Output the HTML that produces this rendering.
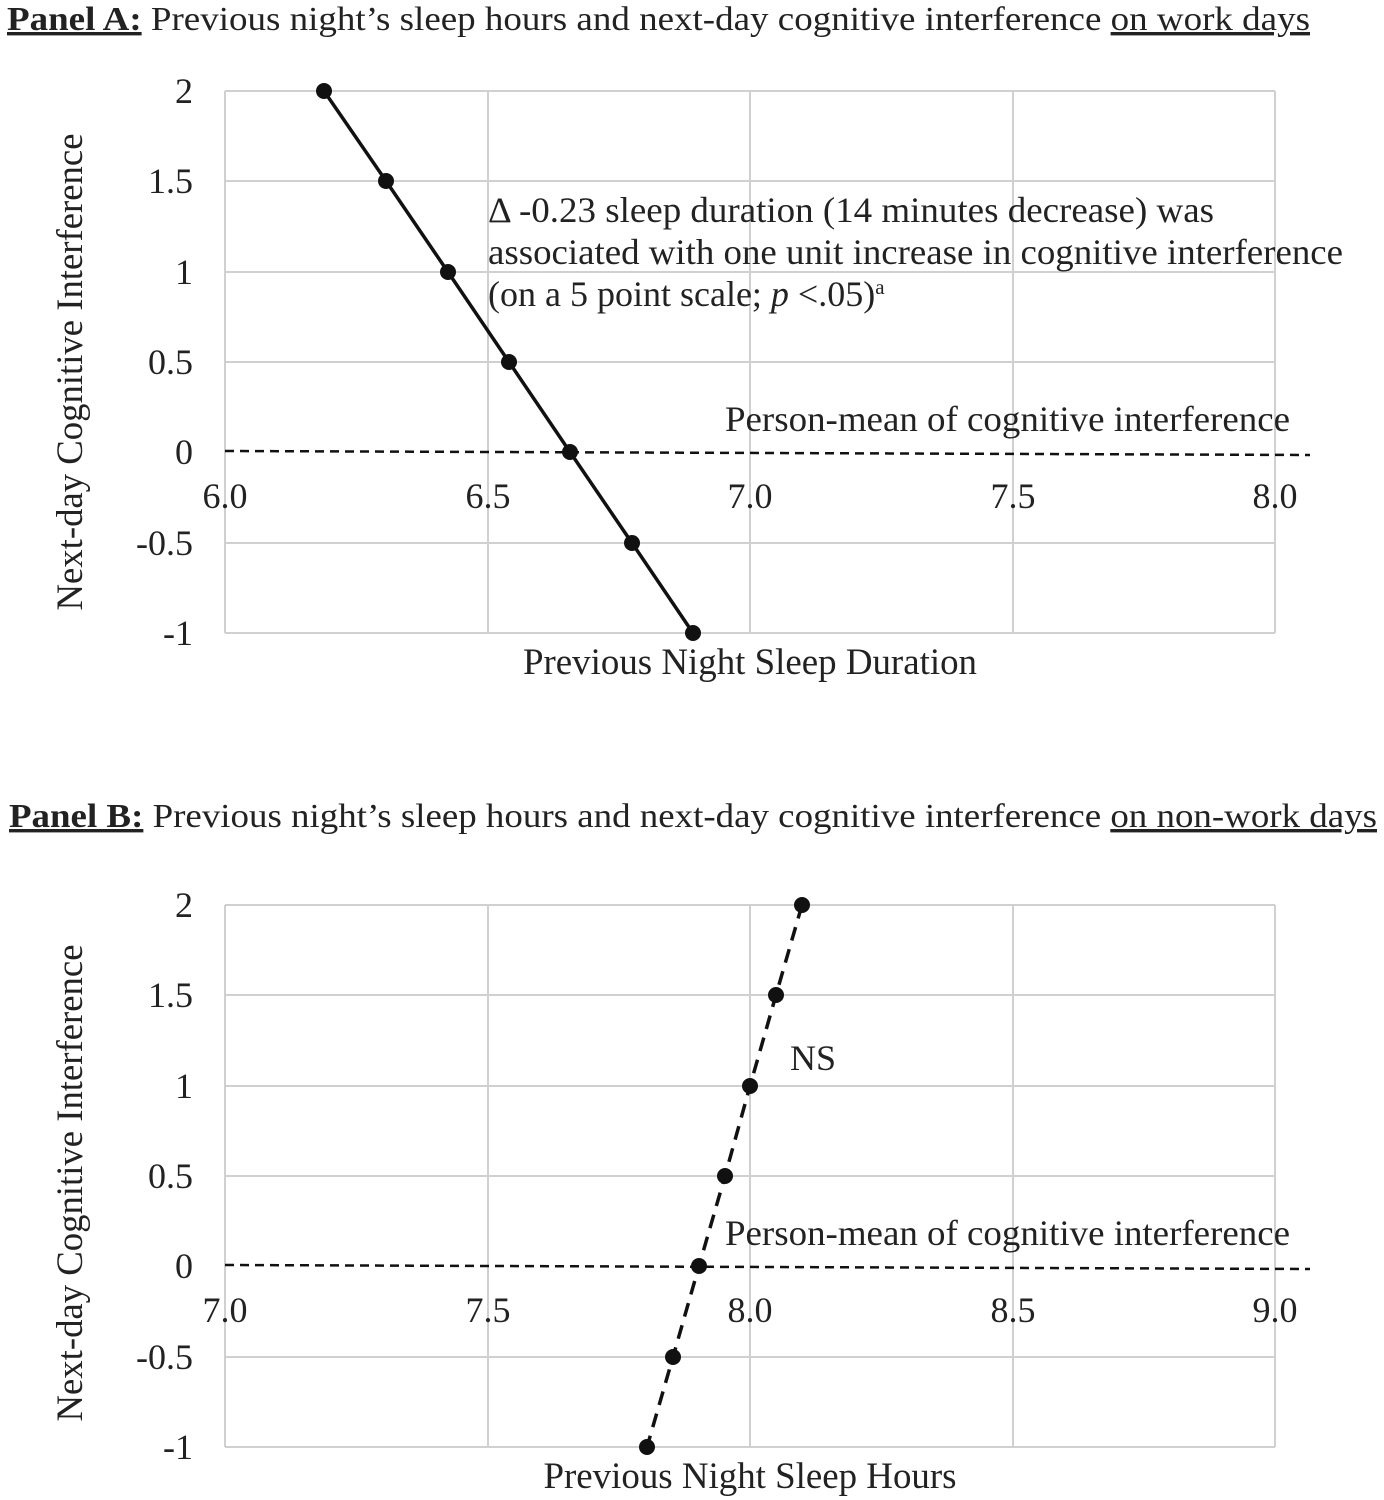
<!DOCTYPE html>
<html><head><meta charset="utf-8"><style>
html,body{margin:0;padding:0;background:#fff;}
svg{display:block;font-family:"Liberation Serif",serif;}
</style></head><body>
<svg width="1384" height="1500" viewBox="0 0 1384 1500">
<g font-size="34" fill="#222">
<text x="7" y="30" textLength="1303" lengthAdjust="spacingAndGlyphs"><tspan font-weight="bold" text-decoration="underline">Panel A:</tspan> Previous night’s sleep hours and next-day cognitive interference <tspan text-decoration="underline">on work days</tspan></text>
<text x="9" y="827" textLength="1368" lengthAdjust="spacingAndGlyphs"><tspan font-weight="bold" text-decoration="underline">Panel B:</tspan> Previous night’s sleep hours and next-day cognitive interference <tspan text-decoration="underline">on non-work days</tspan></text>
</g>

<!-- Panel A grid -->
<g stroke="#d0d0d0" stroke-width="2" fill="none">
<line x1="225" y1="91" x2="1275" y2="91"/><line x1="225" y1="181" x2="1275" y2="181"/><line x1="225" y1="272" x2="1275" y2="272"/><line x1="225" y1="362" x2="1275" y2="362"/><line x1="225" y1="543" x2="1275" y2="543"/><line x1="225" y1="633" x2="1275" y2="633"/>
<line x1="225" y1="91" x2="225" y2="633"/><line x1="488" y1="91" x2="488" y2="633"/><line x1="750" y1="91" x2="750" y2="633"/><line x1="1013" y1="91" x2="1013" y2="633"/><line x1="1275" y1="91" x2="1275" y2="633"/>
</g>
<line x1="225" y1="451" x2="1310" y2="455" stroke="#111" stroke-width="2.5" stroke-dasharray="9,6"/>
<polyline points="324,91 386,181 448,272 509,362 570,452 632,543 693,633" fill="none" stroke="#111" stroke-width="3.5"/>
<g fill="#111"><circle cx="324" cy="91" r="8"/><circle cx="386" cy="181" r="8"/><circle cx="448" cy="272" r="8"/><circle cx="509" cy="362" r="8"/><circle cx="570" cy="452" r="8"/><circle cx="632" cy="543" r="8"/><circle cx="693" cy="633" r="8"/></g>
<g font-size="36" fill="#222" text-anchor="end">
<text x="193" y="103">2</text><text x="193" y="193">1.5</text><text x="193" y="284">1</text><text x="193" y="374">0.5</text><text x="193" y="464">0</text><text x="193" y="555">-0.5</text><text x="193" y="645">-1</text>
</g>
<g font-size="36" fill="#222" text-anchor="middle">
<text x="225" y="508">6.0</text><text x="488" y="508">6.5</text><text x="750" y="508">7.0</text><text x="1013" y="508">7.5</text><text x="1275" y="508">8.0</text>
<text x="750" y="674" font-size="37" textLength="454" lengthAdjust="spacingAndGlyphs">Previous Night Sleep Duration</text>
<text transform="translate(82,372) rotate(-90)" font-size="37" textLength="477" lengthAdjust="spacingAndGlyphs">Next-day Cognitive Interference</text>
</g>
<g font-size="36" fill="#222">
<text x="488" y="222" textLength="726" lengthAdjust="spacingAndGlyphs">Δ -0.23 sleep duration (14 minutes decrease) was</text>
<text x="488" y="264" textLength="855" lengthAdjust="spacingAndGlyphs">associated with one unit increase in cognitive interference</text>
<text x="488" y="306">(on a 5 point scale; <tspan font-style="italic">p</tspan> &lt;.05)<tspan font-size="21" dy="-12">a</tspan></text>
<text x="725" y="431" textLength="565" lengthAdjust="spacingAndGlyphs">Person-mean of cognitive interference</text>
</g>

<!-- Panel B grid -->
<g stroke="#d0d0d0" stroke-width="2" fill="none">
<line x1="225" y1="905" x2="1275" y2="905"/><line x1="225" y1="995" x2="1275" y2="995"/><line x1="225" y1="1086" x2="1275" y2="1086"/><line x1="225" y1="1176" x2="1275" y2="1176"/><line x1="225" y1="1357" x2="1275" y2="1357"/><line x1="225" y1="1447" x2="1275" y2="1447"/>
<line x1="225" y1="905" x2="225" y2="1447"/><line x1="488" y1="905" x2="488" y2="1447"/><line x1="750" y1="905" x2="750" y2="1447"/><line x1="1013" y1="905" x2="1013" y2="1447"/><line x1="1275" y1="905" x2="1275" y2="1447"/>
</g>
<line x1="225" y1="1265" x2="1310" y2="1269" stroke="#111" stroke-width="2.5" stroke-dasharray="9,6"/>
<polyline points="802,905 776,995 750,1086 725,1176 699,1266 673,1357 647,1447" fill="none" stroke="#111" stroke-width="3.5" stroke-dasharray="14,9"/>
<g fill="#111"><circle cx="802" cy="905" r="8"/><circle cx="776" cy="995" r="8"/><circle cx="750" cy="1086" r="8"/><circle cx="725" cy="1176" r="8"/><circle cx="699" cy="1266" r="8"/><circle cx="673" cy="1357" r="8"/><circle cx="647" cy="1447" r="8"/></g>
<g font-size="36" fill="#222" text-anchor="end">
<text x="193" y="917">2</text><text x="193" y="1007">1.5</text><text x="193" y="1098">1</text><text x="193" y="1188">0.5</text><text x="193" y="1278">0</text><text x="193" y="1369">-0.5</text><text x="193" y="1459">-1</text>
</g>
<g font-size="36" fill="#222" text-anchor="middle">
<text x="225" y="1322">7.0</text><text x="488" y="1322">7.5</text><text x="750" y="1322">8.0</text><text x="1013" y="1322">8.5</text><text x="1275" y="1322">9.0</text>
<text x="750" y="1488" font-size="37" textLength="413" lengthAdjust="spacingAndGlyphs">Previous Night Sleep Hours</text>
<text transform="translate(82,1183) rotate(-90)" font-size="37" textLength="477" lengthAdjust="spacingAndGlyphs">Next-day Cognitive Interference</text>
</g>
<g font-size="36" fill="#222">
<text x="790" y="1070">NS</text>
<text x="725" y="1245" textLength="565" lengthAdjust="spacingAndGlyphs">Person-mean of cognitive interference</text>
</g>
</svg>
</body></html>
